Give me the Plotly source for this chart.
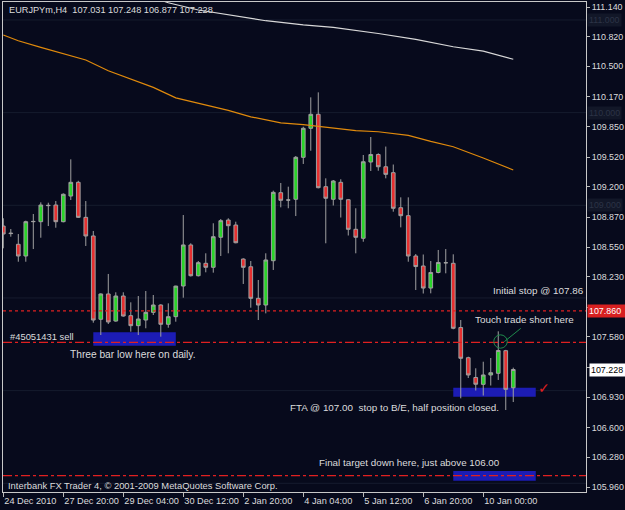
import plotly.graph_objects as go

# ---------------- data (EURJPYm, H4) ----------------
opens = [108.776, 108.700, 108.579, 108.453, 108.823, 108.823, 108.996, 109.003, 108.823, 109.100,
         109.248, 108.870, 108.669, 107.770, 108.043, 107.751, 108.021, 107.809, 107.701, 107.762,
         107.845, 107.924, 107.716, 107.798, 108.129, 108.572, 108.240, 108.374, 108.331, 108.655,
         108.841, 108.787, 108.420, 108.337, 107.996, 107.924, 108.402, 109.136, 109.057, 109.065,
         109.518, 109.831, 109.982, 109.201, 109.065, 109.248, 109.060, 108.741, 108.644, 109.467,
         109.548, 109.416, 109.352, 108.974, 108.888, 108.453, 108.345, 108.107, 108.275, 108.380,
         108.374, 107.681, 107.355, 107.142, 107.068, 107.169, 107.187, 107.431, 107.031]
highs = [108.860, 108.744, 108.690, 108.834, 108.906, 109.032, 109.028, 109.046, 109.129, 109.496,
         109.265, 109.046, 108.723, 108.050, 108.259, 108.061, 108.061, 107.953, 108.021, 108.075,
         108.032, 107.932, 107.942, 108.132, 108.895, 108.590, 108.399, 108.482, 108.806, 108.852,
         108.860, 108.823, 108.428, 108.399, 108.194, 108.482, 109.158, 109.241, 109.201, 109.532,
         109.848, 110.165, 110.219, 109.291, 109.273, 109.281, 109.065, 108.968, 109.543, 109.737,
         109.561, 109.634, 109.440, 109.086, 109.086, 108.474, 108.469, 108.399, 108.518, 108.528,
         108.471, 107.762, 107.366, 107.241, 107.312, 107.352, 107.640, 107.440, 107.248]
lows = [108.536, 108.661, 108.391, 108.391, 108.528, 108.650, 108.776, 108.758, 108.816, 109.057,
        108.863, 108.561, 107.733, 107.600, 107.719, 107.744, 107.798, 107.636, 107.600, 107.673,
        107.816, 107.582, 107.679, 107.744, 108.003, 108.232, 108.232, 108.277, 108.273, 108.453,
        108.482, 108.590, 108.151, 107.895, 107.762, 107.834, 108.302, 108.978, 108.968, 108.884,
        109.446, 109.589, 109.183, 108.590, 108.998, 108.868, 108.674, 108.482, 108.607, 109.370,
        109.373, 109.291, 108.931, 108.762, 108.391, 108.086, 108.048, 108.050, 108.266, 108.266,
        107.662, 106.917, 107.136, 107.001, 106.947, 107.055, 107.115, 106.791, 106.877]
closes = [108.690, 108.695, 108.453, 108.823, 108.826, 109.003, 108.999, 108.823, 109.119, 109.248,
          108.870, 108.669, 107.762, 108.043, 107.741, 108.021, 107.805, 107.701, 107.773, 107.845,
          107.924, 107.716, 107.798, 108.128, 108.572, 108.240, 108.381, 108.331, 108.661, 108.834,
          108.780, 108.596, 108.331, 107.996, 107.924, 108.410, 109.140, 109.054, 109.057, 109.518,
          109.831, 109.982, 109.190, 109.076, 109.262, 109.065, 108.741, 108.655, 109.470, 109.548,
          109.416, 109.334, 108.968, 108.888, 108.453, 108.339, 108.107, 108.275, 108.383, 108.380,
          107.673, 107.349, 107.169, 107.069, 107.169, 107.193, 107.433, 107.014, 107.228]

# moving averages (read at selected bars)
ma_orange_idx = [0, 2, 5, 8, 11, 14, 17, 20, 23, 26, 30, 33, 37, 40, 44, 47, 50, 54, 57, 60, 64, 68]
ma_orange_val = [110.838, 110.776, 110.705, 110.640, 110.568, 110.452, 110.360, 110.273, 110.160, 110.101,
                 110.025, 109.955, 109.890, 109.870, 109.831, 109.805, 109.794, 109.755, 109.690, 109.632,
                 109.510, 109.381]
ma_white_idx = [21, 22, 26, 31, 35, 40, 44, 50, 55, 60, 64, 68]
ma_white_val = [111.215, 111.186, 111.108, 111.040, 110.992, 110.948, 110.921, 110.854, 110.791, 110.711,
                110.663, 110.576]

# time axis labels (bar index of each label)
time_tick_idx = [0, 8, 16, 24, 32, 40, 48, 56, 64]
time_tick_text = ["24 Dec 2010", "27 Dec 20:00", "29 Dec 04:00", "30 Dec 12:00", "2 Jan 20:00",
                  "4 Jan 04:00", "5 Jan 12:00", "6 Jan 20:00", "10 Jan 00:00"]
price_tick_vals = [111.14, 110.82, 110.50, 110.17, 109.85, 109.52, 109.20, 108.87,
                   108.55, 108.23, 107.90, 107.58, 107.25, 106.93, 106.60, 106.28, 105.96]
price_tick_text = ["111.140", "110.820", "110.500", "110.170", "109.850", "109.520", "109.200", "108.870",
                   "108.550", "108.230", "", "107.580", "", "106.930", "106.600", "106.280",
                   "105.960"]
round_levels = [111.0, 110.0, 109.0, 108.0, 107.0, 106.0]
round_labels = ["111.000", "110.000", "109.000"]

# trade levels
stop_level = 107.86
sell_level = 107.52
target_level = 106.082
last_price = 107.228
zone_sell = (12, 23, 107.485, 107.629)
zone_fta = (60, 71, 106.934, 107.032)
zone_target = (60, 71, 106.028, 106.132)

BG = "#070a1c"
TXT = "#dcdcdc"
FONT = "Liberation Sans"

x_idx = list(range(len(opens)))

fig = go.Figure()
fig.add_trace(go.Scatter(x=ma_orange_idx, y=ma_orange_val, mode="lines",
                         line=dict(color="#e08a0c", width=1.2), hoverinfo="skip"))
fig.add_trace(go.Scatter(x=ma_white_idx, y=ma_white_val, mode="lines",
                         line=dict(color="#d8d8d8", width=1.2), hoverinfo="skip"))
fig.add_trace(go.Candlestick(
    x=x_idx, open=opens, high=highs, low=lows, close=closes,
    increasing=dict(line=dict(color="#a0a0a0", width=1), fillcolor="#2ad42a"),
    decreasing=dict(line=dict(color="#a0a0a0", width=1), fillcolor="#e63030"),
    whiskerwidth=0))

shapes = []
for lv in round_levels:
    shapes.append(dict(type="line", xref="paper", x0=0, x1=1, yref="y", y0=lv, y1=lv,
                       line=dict(color="#161c2e", width=1), layer="below"))
for (a, b, lo, hi) in [zone_sell, zone_fta, zone_target]:
    shapes.append(dict(type="rect", xref="x", yref="y", x0=a, x1=b, y0=lo, y1=hi,
                       fillcolor="#1c1cb4", line=dict(width=0), layer="below"))
shapes.append(dict(type="line", xref="paper", x0=0, x1=1, yref="y", y0=stop_level, y1=stop_level,
                   line=dict(color="#e02020", width=1.3, dash="dot")))
for lv in [sell_level, target_level]:
    shapes.append(dict(type="line", xref="paper", x0=0, x1=1, yref="y", y0=lv, y1=lv,
                       line=dict(color="#e02020", width=1.3, dash="dashdot")))
# green circle and stroke at the touch entry
shapes.append(dict(type="circle", xref="x", yref="y", x0=65.4, x1=67.2, y0=107.458, y1=107.602,
                   line=dict(color="#1f8a4c", width=1)))
shapes.append(dict(type="line", xref="x", yref="y", x0=66.8, x1=69.0, y0=107.528, y1=107.672,
                   line=dict(color="#1f8a4c", width=1)))

annotations = []
def txt(x, y, s, size=10, color=TXT, xref="x", yref="y", **kw):
    annotations.append(dict(x=x, y=y, xref=xref, yref=yref, text=s, showarrow=False,
                            xanchor=kw.pop("xanchor", "left"), yanchor=kw.pop("yanchor", "middle"),
                            font=dict(family=FONT, size=size, color=color), **kw))

txt(4 / 583, (492 - 10) / 490, "EURJPYm,H4\u00a0\u00a0%.3f %.3f %.3f %.3f" % (opens[-1], highs[-1], lows[-1], closes[-1]),
    size=9.2, xref="paper", yref="paper")
txt(0.63, 107.582, "#45051431 sell", size=9.4)
txt(8.6, 107.392, "Three bar low here on daily.", size=10.2)
txt(65.0, 108.078, "Initial stop @ 107.86", size=9.9)
txt(62.6, 107.773, "Touch trade short here", size=9.9)
txt(37.9, 106.820, "FTA @ 107.00\u00a0\u00a0stop to B/E, half position closed.", size=9.9)
txt(41.8, 106.222, "Final target down here, just above 106.00", size=9.8)
txt(3 / 583, (492 - 485.7) / 490, "Interbank FX Trader 4, © 2001-2009 MetaQuotes Software Corp.",
    size=9.4, xref="paper", yref="paper")
annotations.append(dict(x=72.1, y=107.03, xref="x", yref="y", text="✓", showarrow=False,
                        font=dict(family="DejaVu Sans", size=14, color="#e02020")))
# faint round-number labels on the price scale
for lab in round_labels:
    annotations.append(dict(x=1, y=float(lab), xref="paper", yref="y", text=lab, showarrow=False,
                            xanchor="left", xshift=1, yanchor="middle", bgcolor="#121728",
                            font=dict(family=FONT, size=8.8, color="#2c3346"), borderpad=1))
# price labels for stop level and current price
annotations.append(dict(x=1, y=stop_level, xref="paper", yref="y", text="%.3f" % stop_level, showarrow=False,
                        xanchor="left", xshift=1, yanchor="middle", bgcolor="#d82020", width=36,
                        align="left", font=dict(family=FONT, size=8.9, color="#ffffff"), borderpad=1))
annotations.append(dict(x=1, y=last_price, xref="paper", yref="y", text="%.3f" % last_price, showarrow=False,
                        xanchor="left", xshift=3, yanchor="middle", bgcolor="#ffffff", width=34,
                        align="left", font=dict(family=FONT, size=8.9, color="#000000"), borderpad=1))

fig.update_layout(
    width=625, height=510, margin=dict(l=3, r=39, t=2, b=18, autoexpand=False),
    paper_bgcolor=BG, plot_bgcolor=BG, showlegend=False,
    shapes=shapes, annotations=annotations,
    xaxis=dict(range=[-0.04, 77.7], rangeslider=dict(visible=False), automargin=False,
               tickmode="array", tickvals=time_tick_idx, ticktext=time_tick_text, tickangle=0,
               ticks="outside", ticklen=4, tickcolor="#b8b8b8", ticklabelposition="outside right",
               showgrid=False, zeroline=False, showline=True, mirror=True, linecolor="#c8c8c8",
               tickfont=dict(family=FONT, size=9.2, color=TXT)),
    yaxis=dict(side="right", range=[105.906, 111.194], automargin=False,
               tickmode="array", tickvals=price_tick_vals, ticktext=price_tick_text,
               ticks="outside", ticklen=3, tickcolor="#b8b8b8",
               showgrid=False, zeroline=False, showline=True, mirror=True, linecolor="#c8c8c8",
               tickfont=dict(family=FONT, size=8.9, color=TXT)),
)

fig.write_html("out.html")
